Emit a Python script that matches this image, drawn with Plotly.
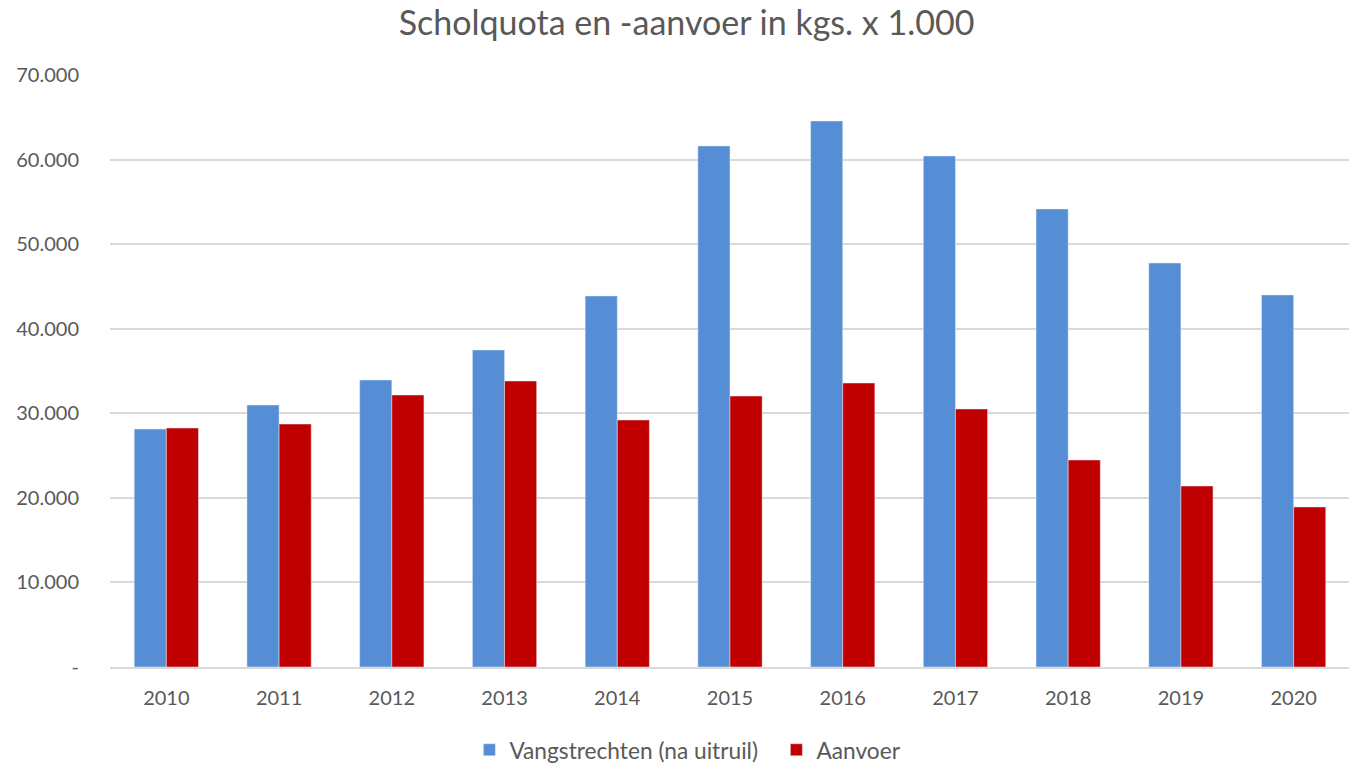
import plotly.graph_objects as go

# Data (kgs x 1.000)
jaren = ["2010", "2011", "2012", "2013", "2014", "2015", "2016", "2017", "2018", "2019", "2020"]
vangstrechten = [28140, 30980, 33940, 37480, 43870, 61610, 64560, 60420, 54160, 47770, 43990]
aanvoer = [28260, 28730, 32160, 33820, 29210, 32040, 33580, 30510, 24480, 21400, 18920]

tick_vals = [0, 10000, 20000, 30000, 40000, 50000, 60000, 70000]
tick_text = ["-", "10.000", "20.000", "30.000", "40.000", "50.000", "60.000", "70.000"]

grey = "#595959"
font = "Lato"

fig = go.Figure()
fig.add_trace(go.Bar(x=jaren, y=vangstrechten, name="Vangstrechten (na uitruil)",
                     marker=dict(color="#558ED5")))
fig.add_trace(go.Bar(x=jaren, y=aanvoer, name="Aanvoer",
                     marker=dict(color="#C00000")))

# page body has an 8px margin, so the plot area is shifted by 8px
fig.update_layout(
    width=1357, height=764,
    paper_bgcolor="white", plot_bgcolor="white",
    barmode="group", bargap=0.43, bargroupgap=0,
    margin=dict(l=102, r=15, t=67, b=105),
    font=dict(family=font, color=grey, size=20),
    title=dict(text="Scholquota en -aanvoer in kgs. x 1.000", x=0.5, xanchor="center",
               y=1 - 15 / 764, yanchor="middle", font=dict(size=34, color=grey, family=font)),
    legend=dict(orientation="h", xref="container", yref="container",
                x=0.340, xanchor="left", y=1 - 742 / 764, yanchor="middle",
                font=dict(size=22.7, color=grey), itemwidth=30,
                entrywidth=262, entrywidthmode="pixels"),
    showlegend=True,
)
fig.update_yaxes(range=[0, 70000], tickvals=tick_vals, ticktext=tick_text,
                 showgrid=True, gridcolor="#D9D9D9", gridwidth=1.5,
                 zeroline=False, showline=False, ticks="", ticklen=0,
                 ticklabelstandoff=30, automargin=False)
fig.update_xaxes(showline=True, linecolor="#D9D9D9", linewidth=1.5, ticks="",
                 ticklabelstandoff=12, automargin=False)

fig.write_html("out.html")
